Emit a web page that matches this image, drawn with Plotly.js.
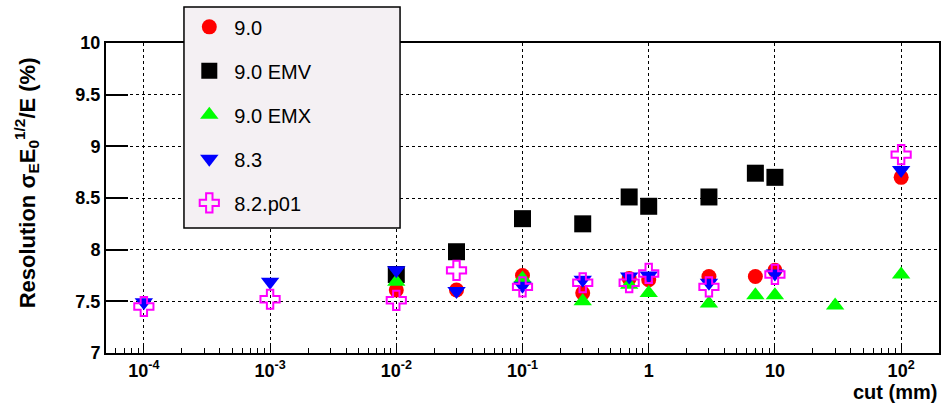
<!DOCTYPE html>
<html>
<head>
<meta charset="utf-8">
<script src="https://cdn.plot.ly/plotly-3.0.1.min.js"></script>
<style>html,body{margin:0;padding:0;background:#fff;}#chart{width:951px;height:404px;}</style>
</head>
<body>
<div id="chart"></div>
<script>
// cut values (mm) and resolution (%) per series
const cut_90    = [0.01, 0.03, 0.1, 0.3, 0.7, 1, 3, 7, 10, 100];
const res_90    = [7.61, 7.61, 7.75, 7.58, 7.72, 7.71, 7.74, 7.74, 7.80, 8.70];
const cut_90EMV = [0.01, 0.03, 0.1, 0.3, 0.7, 1, 3, 7, 10];
const res_90EMV = [7.76, 7.98, 8.30, 8.25, 8.51, 8.42, 8.51, 8.74, 8.70];
const cut_90EMX = [0.01, 0.1, 0.3, 0.7, 1, 3, 7, 10, 30, 100];
const res_90EMX = [7.69, 7.72, 7.50, 7.66, 7.58, 7.48, 7.56, 7.56, 7.46, 7.76];
const cut_83    = [0.0001, 0.001, 0.01, 0.03, 0.1, 0.3, 0.7, 1, 3, 10, 100];
const res_83    = [7.49, 7.69, 7.80, 7.60, 7.65, 7.71, 7.74, 7.75, 7.68, 7.77, 8.77];
const cut_82    = [0.0001, 0.001, 0.01, 0.03, 0.1, 0.3, 0.7, 1, 3, 10, 100];
const res_82    = [7.45, 7.52, 7.51, 7.80, 7.64, 7.68, 7.68, 7.77, 7.64, 7.76, 8.92];

const xTickVals = [0.0001, 0.001, 0.01, 0.1, 1, 10, 100];
const xTickText = ['10<sup>-4</sup>', '10<sup>-3</sup>', '10<sup>-2</sup>', '10<sup>-1</sup>', '1', '10', '10<sup>2</sup>'];
const seriesNames = ['9.0', '9.0 EMV', '9.0 EMX', '8.3', '8.2.p01'];

const FONT = 'Liberation Sans, Arial, Helvetica, sans-serif';

const traces = [
  {x: cut_90EMV, y: res_90EMV, name: seriesNames[1], legendrank: 2,
   marker: {symbol: 'square', size: 17, color: '#000000'}},
  {x: cut_90, y: res_90, name: seriesNames[0], legendrank: 1,
   marker: {symbol: 'circle', size: 15, color: '#ff0000'}},
  {x: cut_90EMX, y: res_90EMX, name: seriesNames[2], legendrank: 3,
   marker: {symbol: 'triangle-up', size: 16, color: '#00ff00'}},
  {x: cut_83, y: res_83, name: seriesNames[3], legendrank: 4,
   marker: {symbol: 'triangle-down', size: 16, color: '#0000ff'}},
  {x: cut_82, y: res_82, name: seriesNames[4], legendrank: 5,
   marker: {symbol: 'cross-open', size: 16, color: '#ff00ff', line: {color: '#ff00ff', width: 2}}}
].map((t, i) => Object.assign({type: 'scatter', mode: 'markers', legendgroup: 'g' + i, cliponaxis: false}, t));

const layout = {
  width: 951, height: 404,
  margin: {l: 106, r: 12, t: 43, b: 51, autoexpand: false},
  paper_bgcolor: '#ffffff', plot_bgcolor: '#ffffff',
  font: {family: FONT, color: '#000000'},
  showlegend: true,
  legend: {
    x: 0.094, xanchor: 'left', y: 1.115, yanchor: 'top',
    bgcolor: 'rgba(0,0,0,0)', borderwidth: 0,
    font: {family: FONT, size: 20, color: '#000000'},
    traceorder: 'grouped', tracegroupgap: 15, itemwidth: 40, maxheight: 400
  },
  shapes: [
    {type: 'rect', xref: 'paper', yref: 'paper', layer: 'above',
     x0: 0.0936, x1: 0.353, y0: 0.403, y1: 1.116,
     fillcolor: '#f4f0f3', line: {color: '#000000', width: 1.5}}
  ],
  xaxis: {
    type: 'log', range: [-4.3, 2.3],
    tickvals: xTickVals, ticktext: xTickText,
    tickfont: {family: FONT, size: 18, weight: 'bold'},
    ticks: 'inside', ticklen: 9, tickwidth: 1, tickcolor: '#000',
    showline: true, linecolor: '#000', linewidth: 2, mirror: true,
    showgrid: true, gridcolor: '#000', gridwidth: 1, griddash: 'dot',
    zeroline: false,
    minor: {ticks: 'inside', ticklen: 5, tickwidth: 1, tickcolor: '#000', dtick: 'D1', showgrid: false}
  },
  yaxis: {
    range: [7, 10], dtick: 0.5, tick0: 7,
    tickfont: {family: FONT, size: 18, weight: 'bold'},
    ticks: 'inside', ticklen: 22, tickwidth: 2, tickcolor: '#000',
    showline: true, linecolor: '#000', linewidth: 2, mirror: true,
    showgrid: true, gridcolor: '#000', gridwidth: 1, griddash: 'dot',
    zeroline: false
  },
  annotations: [
    {text: '<b>Resolution σ<sub>E</sub>E<sub>0</sub><sup>1/2</sup>/E (%)</b>', textangle: -90,
     xref: 'paper', yref: 'paper', x: -0.095, y: 0.55, xanchor: 'center', yanchor: 'middle',
     showarrow: false, font: {family: FONT, size: 22, color: '#000'}},
    {text: '<b>cut (mm)</b>', xref: 'paper', yref: 'paper', x: 1.0, y: -0.125,
     xanchor: 'right', yanchor: 'middle', showarrow: false,
     font: {family: FONT, size: 20, color: '#000'}}
  ]
};

Plotly.newPlot('chart', traces, layout, {displayModeBar: false, staticPlot: true});
</script>
</body>
</html>
